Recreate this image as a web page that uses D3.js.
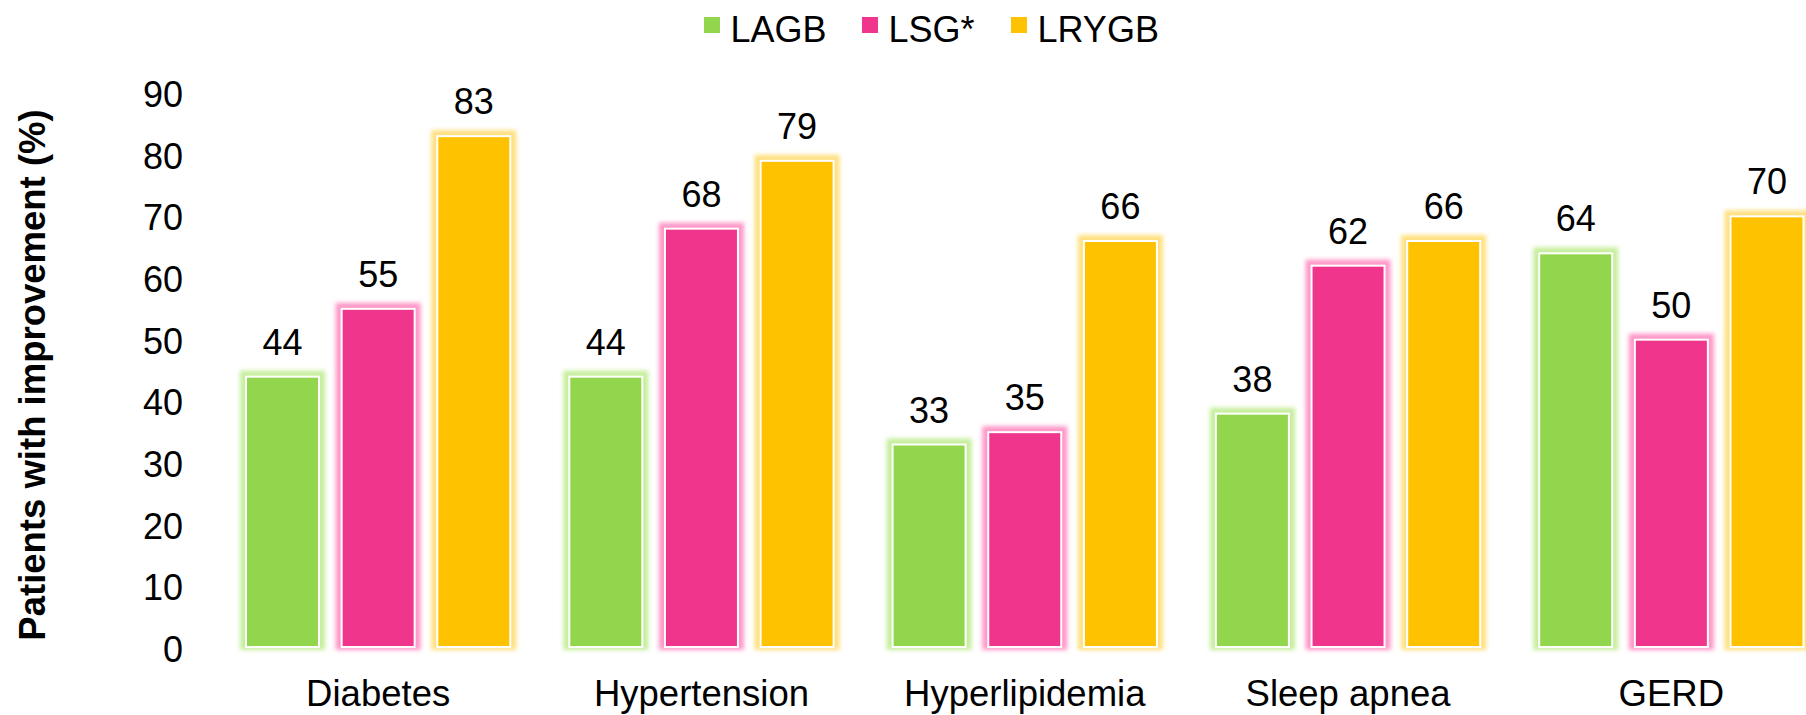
<!DOCTYPE html>
<html>
<head>
<meta charset="utf-8">
<script src="https://cdn.jsdelivr.net/npm/d3@7"></script>
<style>
  html, body { margin: 0; padding: 0; background: #ffffff; }
  svg { display: block; font-family: "Liberation Sans", Arial, sans-serif; }
</style>
</head>
<body>
<svg id="chart" width="1806" height="715"></svg>
<script>
// Improvement in comorbidities by procedure
const categories = ["Diabetes", "Hypertension", "Hyperlipidemia", "Sleep apnea", "GERD"];
const seriesNames = ["LAGB", "LSG*", "LRYGB"];
const lagbValues  = [44, 44, 33, 38, 64];
const lsgValues   = [55, 68, 35, 62, 50];
const lrygbValues = [83, 79, 66, 66, 70];
const yTicks = [0, 10, 20, 30, 40, 50, 60, 70, 80, 90];
const yTitle = "Patients with improvement (%)";

const colors = { "LAGB": "#92D64E", "LSG*": "#F0358C", "LRYGB": "#FFC200" };
const glowColors = { "LAGB": "#C6EE9C", "LSG*": "#FF97C8", "LRYGB": "#FFE080" };

const seriesValues = { "LAGB": lagbValues, "LSG*": lsgValues, "LRYGB": lrygbValues };
const rows = categories.map((c, i) => ({
  category: c,
  values: seriesNames.map(s => ({ series: s, value: seriesValues[s][i] }))
}));

const svg = d3.select("#chart");

const defs = svg.append("defs");
defs.append("filter")
  .attr("id", "glow")
  .attr("x", "-20%").attr("y", "-20%").attr("width", "140%").attr("height", "140%")
  .append("feGaussianBlur").attr("stdDeviation", 2);

// Scales
const x0 = d3.scaleBand().domain(categories).range([216.5, 1833]).paddingInner(0).paddingOuter(0);
const x1 = d3.scaleBand().domain(seriesNames)
  .range([28.5, x0.bandwidth() - 28.5]).paddingInner(0.216).paddingOuter(0);
const y = d3.scaleLinear().domain([0, 90]).range([647, 92]);

// Y axis labels (no line, no tick marks)
const yAxis = d3.axisLeft(y).tickValues(yTicks).tickSize(0).tickPadding(0);
const yG = svg.append("g").attr("transform", "translate(183,3)").call(yAxis);
yG.select(".domain").remove();
yG.selectAll("text")
  .attr("font-family", "'Liberation Sans', Arial, sans-serif")
  .attr("font-size", 36).attr("fill", "#000");

// Y axis title
svg.append("text")
  .attr("transform", "translate(45,375) rotate(-90)")
  .attr("text-anchor", "middle")
  .attr("font-size", 36.5).attr("font-weight", "bold").attr("fill", "#000")
  .text(yTitle);

// Category labels
const xAxis = d3.axisBottom(x0).tickSize(0).tickPadding(0);
const xG = svg.append("g").attr("transform", "translate(0,706)").call(xAxis);
xG.select(".domain").remove();
xG.selectAll("text")
  .attr("font-family", "'Liberation Sans', Arial, sans-serif")
  .attr("font-size", 36.5).attr("fill", "#000").attr("dy", "0");

// Bars
const groups = svg.append("g").selectAll("g")
  .data(rows).join("g")
  .attr("transform", d => `translate(${x0(d.category)},0)`);

groups.selectAll("rect.glow")
  .data(d => d.values).join("rect")
  .attr("class", "glow")
  .attr("x", d => x1(d.series) - 5)
  .attr("y", d => y(d.value) - 5)
  .attr("width", x1.bandwidth() + 10)
  .attr("height", d => y(0) - y(d.value) + 8)
  .attr("fill", d => glowColors[d.series])
  .attr("filter", "url(#glow)");

groups.selectAll("rect.bar")
  .data(d => d.values).join("rect")
  .attr("class", "bar")
  .attr("x", d => x1(d.series) + 1)
  .attr("y", d => y(d.value) + 1)
  .attr("width", x1.bandwidth() - 2)
  .attr("height", d => y(0) - y(d.value) - 1)
  .attr("fill", d => colors[d.series])
  .attr("stroke", "#ffffff").attr("stroke-width", 2);

groups.selectAll("text.val")
  .data(d => d.values).join("text")
  .attr("class", "val")
  .attr("x", d => x1(d.series) + x1.bandwidth() / 2)
  .attr("y", d => y(d.value) - 21)
  .attr("text-anchor", "middle")
  .attr("font-size", 36).attr("fill", "#000")
  .text(d => d.value);

// Legend
const legendX = [704, 862, 1011];
const legend = svg.append("g").selectAll("g")
  .data(seriesNames).join("g")
  .attr("transform", (d, i) => `translate(${legendX[i]},0)`);
legend.append("rect")
  .attr("x", 0).attr("y", 17).attr("width", 16).attr("height", 16)
  .attr("fill", d => colors[d]);
legend.append("text")
  .attr("x", 26.5).attr("y", 42)
  .attr("font-size", 36).attr("fill", "#000")
  .text(d => d);
</script>
</body>
</html>
